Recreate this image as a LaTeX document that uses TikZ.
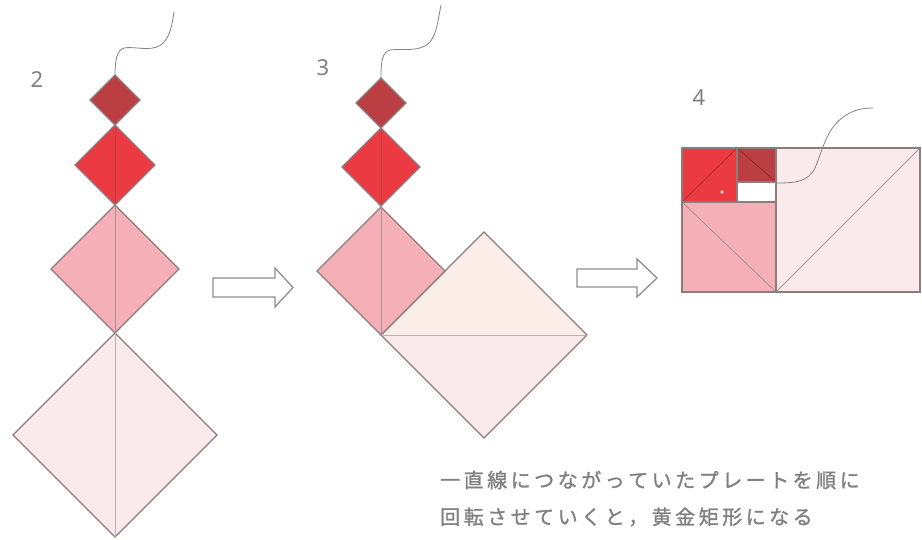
\documentclass[tikz,border=0pt]{standalone}
\usepackage{fontspec}
\newfontfamily\jp{Noto Sans CJK JP}[FakeBold=1.2]
\newfontfamily\numfont{Noto Sans}
\definecolor{dk}{RGB}{186,62,66}
\definecolor{rd}{RGB}{236,58,66}
\definecolor{pk}{RGB}{244,176,182}
\definecolor{lt}{RGB}{251,234,235}
\definecolor{pe}{RGB}{250,236,230}
\definecolor{ol}{RGB}{140,125,125}
\definecolor{tx}{RGB}{128,128,128}
\definecolor{st}{RGB}{130,130,130}
\def\spc#1{\ifx#1\relax\else\makebox[23.5pt][l]{#1}\expandafter\spc\fi}
\begin{document}
\begin{tikzpicture}[x=1pt,y=-1pt,
  plate/.style={draw=ol,line width=1.1pt,line join=miter},
  inner/.style={draw=ol!80,line width=0.8pt},
  faint/.style={draw=#1,line width=0.6pt},
  wire/.style={draw=st,line width=0.8pt},
  hollow/.style={draw=st!90,line width=1.3pt,fill=white,line join=miter},
  numlabel/.style={font=\numfont\fontsize{22}{22}\selectfont,text=tx},
  captext/.style={font=\jp\fontsize{20}{20}\selectfont,text=tx,anchor=west,inner sep=0pt}]
\useasboundingbox (0,0) rectangle (922,539);
\fill[white] (0,0) rectangle (922,539);

% ---------- figure 2 ----------
\node[numlabel] (n2) at (37,80) {2};
\draw[wire] (115,75) .. controls (115,60) and (117,50) .. (124,48)
  .. controls (135,46) and (150,52) .. (161,45)
  .. controls (170,38) and (172,25) .. (174,12);
\path[plate,fill=dk] (115,75)--(140,100)--(115,125)--(90,100)--cycle;
\path[plate,fill=rd] (115,125)--(155,165)--(115,205)--(75,165)--cycle;
\draw[faint=dk] (115,127)--(115,203);
\path[plate,fill=pk] (115,205)--(179,269)--(115,333)--(51,269)--cycle;
\draw[inner] (115,205)--(115,333);
\path[plate,fill=lt] (115,333)--(217,435)--(115,537)--(13,435)--cycle;
\draw[inner,draw=ol!60] (115,333)--(115,537);

% ---------- arrow 1 ----------
\path[hollow] (213,278)--(275,278)--(275,268)--(293,287.5)--(275,307)--(275,297)--(213,297)--cycle;

% ---------- figure 3 ----------
\node[numlabel] (n3) at (323,68) {3};
\draw[wire] (381,78) .. controls (381,62) and (382,52) .. (390,50)
  .. controls (402,48) and (420,53) .. (430,42)
  .. controls (437,33) and (438,20) .. (441,5);
\path[plate,fill=dk] (381,78)--(406,103)--(381,128)--(356,103)--cycle;
\path[plate,fill=rd] (381,128)--(420,167)--(381,206)--(342,167)--cycle;
\draw[faint=dk] (381,130)--(381,204);
\path[fill=pe] (381,335)--(484,232)--(587,335)--cycle;
\path[fill=lt] (381,335)--(587,335)--(484,438)--cycle;
\path[plate] (381,335)--(484,232)--(587,335)--(484,438)--cycle;
\draw[inner,draw=ol!60] (381,335)--(587,335);
\path[plate,fill=pk] (381,207)--(445,271)--(381,335)--(317,271)--cycle;
\draw[inner] (381,207)--(381,335);

% ---------- arrow 2 ----------
\path[hollow] (577,269)--(637,269)--(637,259)--(657,278)--(637,297)--(637,287)--(577,287)--cycle;

% ---------- figure 4 ----------
\node[numlabel] (n4) at (699,98) {4};
\fill[lt] (776,148) rectangle (920,292);
\fill[pk] (682,202) rectangle (776,292);
\fill[rd] (682,148) rectangle (737,202);
\fill[dk] (737,148) rectangle (776,182);
\fill[white] (737,182) rectangle (776,202);
\draw[faint=rd!70!black] (682,202)--(737,148);
\draw[faint=dk!70!black] (737,148)--(776,182);
\fill[white] (722,192) circle (1.6);
\draw[inner] (776,292)--(920,148);
\draw[inner] (682,202)--(776,292);
\draw[plate] (682,202)--(776,202) (737,148)--(737,202) (737,182)--(776,182) (776,148)--(776,292);
\draw[plate] (682,148) rectangle (920,292);
\draw[wire] (777,183) .. controls (795,183) and (808,182) .. (815,168)
  .. controls (822,152) and (826,130) .. (842,118)
  .. controls (852,110) and (862,108) .. (873,108);

% ---------- caption ----------
\node[captext] (c1) at (440,480) {\spc 一直線につながっていたプレートを順に\relax};
\node[captext] (c2) at (440,517) {\spc 回転させていくと，黄金矩形になる\relax};
\end{tikzpicture}
\end{document}
